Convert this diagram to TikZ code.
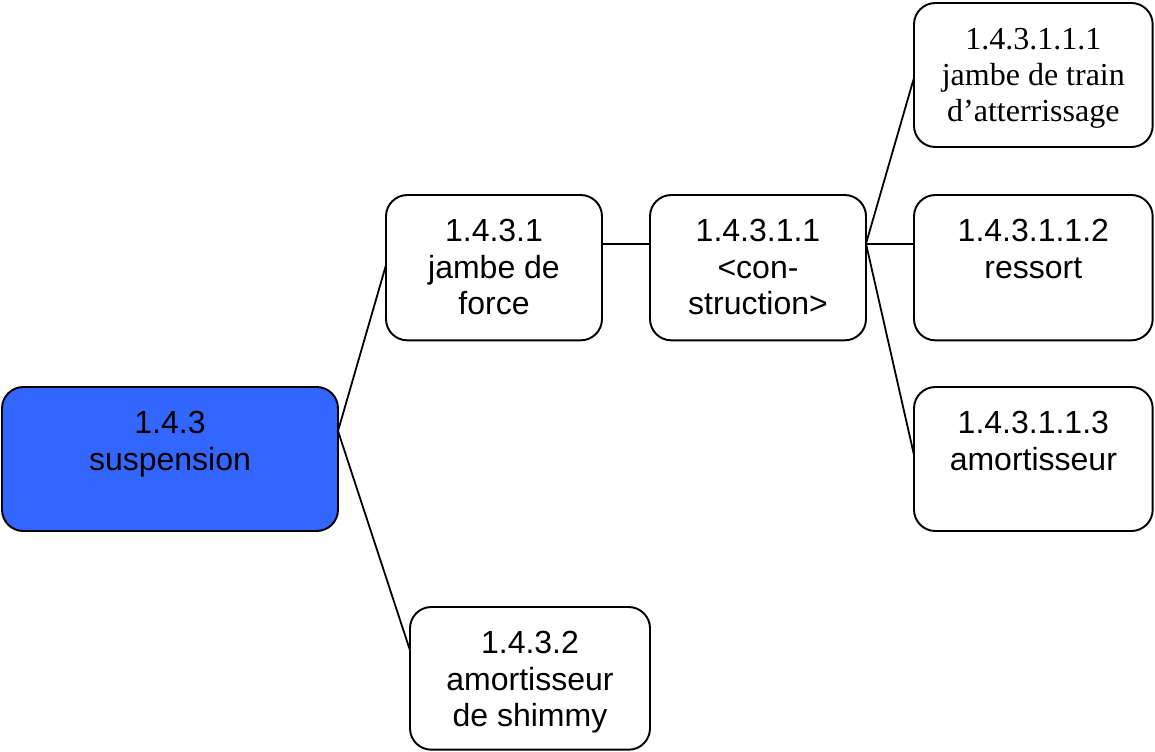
\documentclass[tikz,border=0pt]{standalone}
\usepackage{fontspec}
\setmainfont{Liberation Sans}
\newfontfamily\timesfont{Liberation Serif}
\definecolor{rootblue}{RGB}{51,102,255}
\begin{document}
\begin{tikzpicture}[x=0.75pt,y=-0.75pt,
  box/.style={draw=black,line width=1.45pt,rounded corners=16pt,fill=white,
    inner sep=0pt,outer sep=0pt,anchor=north west},
  title/.style={label={[anchor=north,yshift=-18pt,align=center,inner sep=0pt,
    font=\fontsize{24}{27.5}\selectfont]north:#1}},
  serif title/.style={label={[anchor=north,yshift=-19pt,align=center,inner sep=0pt,
    font=\fontsize{24}{27}\selectfont\timesfont]north:#1}},
  link/.style={draw=black,line width=1.35pt}]
\useasboundingbox (0,0) rectangle (1155,751);

% root of the breakdown
\node[box,fill=rootblue,minimum width=252pt,minimum height=108pt,
  title={1.4.3\\suspension}] (root) at (2,387) {};

% second level
\node[box,minimum width=162pt,minimum height=109pt,
  title={1.4.3.1\\jambe de\\force}] (strut) at (386,195) {};
\node[box,minimum width=180pt,minimum height=107pt,
  title={1.4.3.2\\amortisseur\\de shimmy}] (shimmy) at (410,607) {};

% third level
\node[box,minimum width=162pt,minimum height=109pt,
  title={1.4.3.1.1\\<con-\\struction>}] (constr) at (650,195) {};

% fourth level
\node[box,minimum width=179pt,minimum height=108pt,
  serif title={1.4.3.1.1.1\\jambe de train\\d’atterrissage}] (gear) at (914,3) {};
\node[box,minimum width=179pt,minimum height=109pt,
  title={1.4.3.1.1.2\\ressort}] (spring) at (914,195) {};
\node[box,minimum width=179pt,minimum height=108pt,
  title={1.4.3.1.1.3\\amortisseur}] (damper) at (914,387) {};

% connectors
\draw[link] ([yshift=21pt]root.east) -- ([yshift=2pt]strut.west);
\draw[link] ([yshift=21pt]root.east) -- ([yshift=21pt]shimmy.west);
\draw[link] ([yshift=18pt]strut.east) -- ([yshift=18pt]constr.west);
\draw[link] ([yshift=18pt]constr.east) -- ([yshift=-2pt]gear.west);
\draw[link] ([yshift=18pt]constr.east) -- ([yshift=18pt]spring.west);
\draw[link] ([yshift=18pt]constr.east) -- ([yshift=3pt]damper.west);
\end{tikzpicture}
\end{document}
